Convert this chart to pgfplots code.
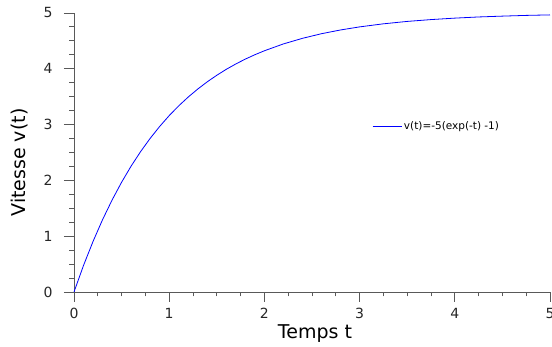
\documentclass[border=0pt]{standalone}
\usepackage{fontspec}
\setmainfont{DejaVu Sans}
\usepackage{pgfplots}
\pgfplotsset{compat=1.18}
\begin{document}
\begin{tikzpicture}
\begin{axis}[
  scale only axis,
  width=476pt, height=279pt,
  xmin=0, xmax=5, ymin=0, ymax=5,
  axis lines=left,
  axis line style={-, draw=black!65, line width=0.9pt},
  tick align=outside,
  major tick length=10pt,
  minor tick length=4.5pt,
  every tick/.style={draw=black!65, line width=0.9pt},
  xtick={0,1,2,3,4,5}, ytick={0,1,2,3,4,5},
  minor tick num=3,
  /pgf/number format/assume math mode=true,
  tick label style={font=\fontsize{14}{16}\selectfont, text=black!85},
  xticklabel style={yshift=-3pt},
  yticklabel style={xshift=-8pt},
  xlabel={Temps t}, ylabel={Vitesse v(t)},
  every axis x label/.style={at={(axis description cs:0.5,0)}, anchor=center, yshift=-42pt, xshift=3pt, font=\fontsize{19}{22}\selectfont},
  every axis y label/.style={at={([xshift=-54pt,yshift=-10pt]axis description cs:0,0.5)}, anchor=center, rotate=90, font=\fontsize{19}{22}\selectfont},
  legend style={draw=none, fill=none, at={(axis description cs:0.626,0.594)}, anchor=west, font=\fontsize{10.5}{12}\selectfont, inner sep=0pt},
  legend cell align=left,
  legend image code/.code={\draw[#1] (0pt,0pt) -- (29pt,0pt);},
  clip=false,
]
\addplot[blue, line width=0.8pt] coordinates {
(0,0) (0.1,0.476) (0.2,0.906) (0.3,1.296) (0.4,1.648) (0.5,1.967)
(0.6,2.256) (0.7,2.517) (0.8,2.753) (0.9,2.967) (1.0,3.161)
(1.1,3.336) (1.2,3.494) (1.3,3.637) (1.4,3.767) (1.5,3.884)
(1.6,3.991) (1.7,4.087) (1.8,4.174) (1.9,4.252) (2.0,4.323)
(2.2,4.446) (2.4,4.546) (2.6,4.629) (2.8,4.696) (3.0,4.751)
(3.25,4.806) (3.5,4.849) (3.75,4.882) (4.0,4.908) (4.25,4.929)
(4.5,4.944) (4.75,4.957) (5.0,4.966)
};
\addlegendentry{v(t)=-5(exp(-t) -1)}
\end{axis}
\pgfresetboundingbox
\useasboundingbox (-74pt,-55pt) rectangle (478pt,292pt);
\end{tikzpicture}
\end{document}
